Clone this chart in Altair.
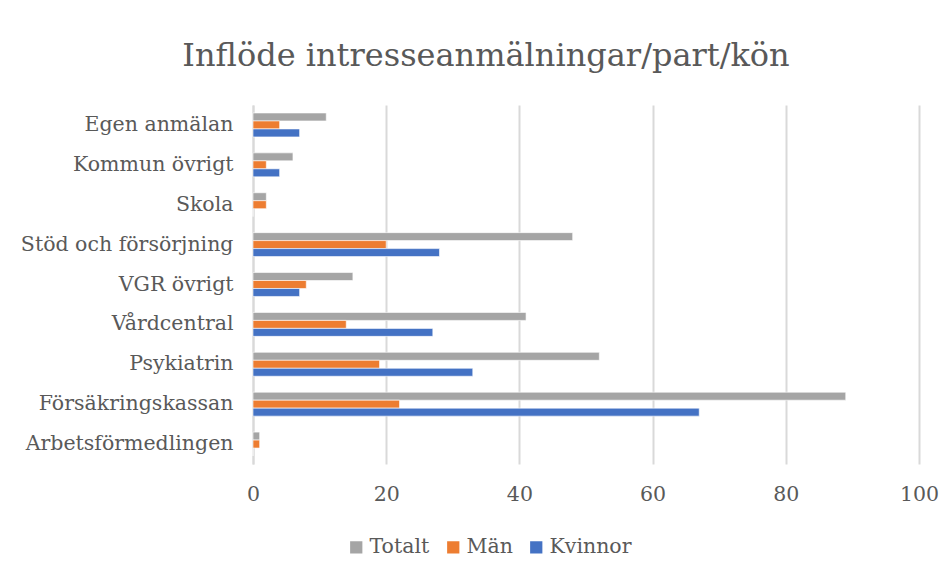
import altair as alt
import pandas as pd

categories = ["Egen anmälan", "Kommun övrigt", "Skola", "Stöd och försörjning",
              "VGR övrigt", "Vårdcentral", "Psykiatrin", "Försäkringskassan",
              "Arbetsförmedlingen"]
series = ["Totalt", "Män", "Kvinnor"]
totalt = [11, 6, 2, 48, 15, 41, 52, 89, 1]
man = [4, 2, 2, 20, 8, 14, 19, 22, 1]
kvinnor = [7, 4, 0, 28, 7, 27, 33, 67, 0]
colors = ["#A5A5A5", "#ED7D31", "#4472C4"]
x_ticks = [0, 20, 40, 60, 80, 100]

rows = []
for i, c in enumerate(categories):
    for s, vals in zip(series, [totalt, man, kvinnor]):
        rows.append({"kategori": c, "serie": s, "varde": vals[i]})
df = pd.DataFrame(rows)

FONT = "DejaVu Serif"
TXT = "#595959"
FS = 20.5

chart = alt.Chart(df).mark_bar(stroke="white", strokeWidth=0.6).encode(
    y=alt.Y("kategori:N", sort=categories, title=None,
            scale=alt.Scale(paddingInner=0.4, paddingOuter=0.2),
            axis=alt.Axis(domain=True, domainColor="#D9D9D9", domainWidth=2,
                          ticks=False, labelFontSize=FS, labelColor=TXT,
                          labelFont=FONT, labelPadding=20, labelLimit=400)),
    yOffset=alt.YOffset("serie:N", sort=series, scale=alt.Scale(paddingInner=0, paddingOuter=0)),
    x=alt.X("varde:Q", title=None, scale=alt.Scale(domain=[0, 100], nice=False),
            axis=alt.Axis(values=x_ticks, domain=False, ticks=False, grid=True,
                          gridColor="#D9D9D9", gridWidth=2, labelFontSize=FS,
                          labelColor=TXT, labelFont=FONT, labelPadding=20,
                          labelFlush=False)),
    color=alt.Color("serie:N", sort=series,
                    scale=alt.Scale(domain=series, range=colors),
                    legend=alt.Legend(title=None, orient="none", direction="horizontal",
                                      legendX=93, legendY=432, symbolType="square",
                                      symbolSize=150, symbolStrokeWidth=0,
                                      labelFontSize=FS, labelColor=TXT, labelFont=FONT,
                                      columnPadding=13, labelOffset=3)),
).properties(
    width=666,
    height=359,
    title=alt.TitleParams("Inflöde intresseanmälningar/part/kön", fontSize=32,
                          font=FONT, color=TXT, fontWeight="normal", offset=32,
                          anchor="middle", dx=-100),
    autosize=alt.AutoSizeParams(type="none"),
    padding={"left": 245, "top": 97, "right": 25, "bottom": 103},
    background="white",
).configure_view(stroke=None)

chart.save("out.html", embed_options={"renderer": "svg", "actions": False})
